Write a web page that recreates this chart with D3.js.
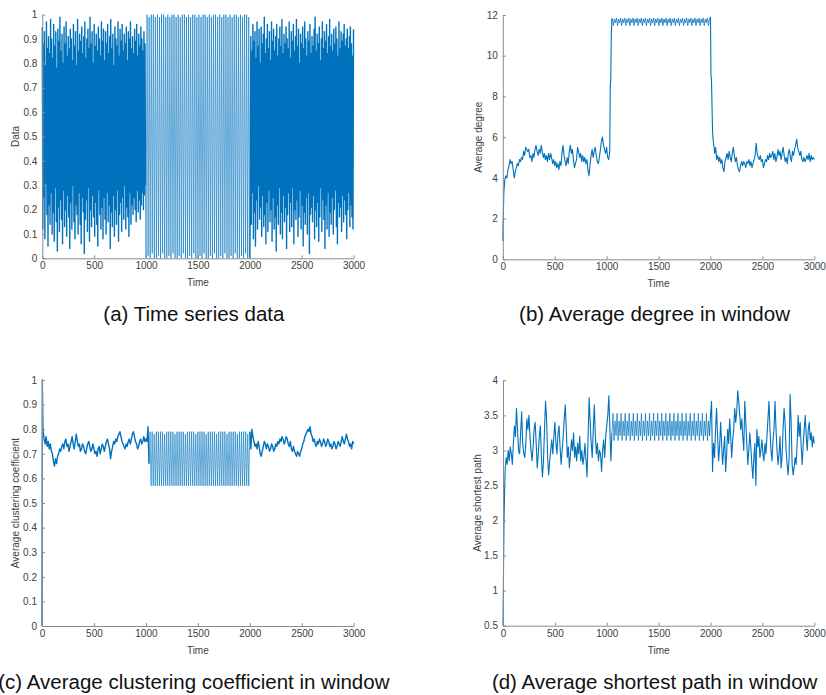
<!DOCTYPE html>
<html>
<head>
<meta charset="utf-8">
<script src="https://cdn.jsdelivr.net/npm/d3@7"></script>
<style>
  body { margin: 0; background: #fff; }
  text { font-family: "Liberation Sans", Arial, sans-serif; }
</style>
</head>
<body>
<svg id="fig" width="826" height="695"></svg>
<script>
// ---- tick labels ----
const timeTicks = [0, 500, 1000, 1500, 2000, 2500, 3000];
const unitTicks = [0, 0.1, 0.2, 0.3, 0.4, 0.5, 0.6, 0.7, 0.8, 0.9, 1];
const degreeTicks = [0, 2, 4, 6, 8, 10, 12];
const pathTicks = [0.5, 1, 1.5, 2, 2.5, 3, 3.5, 4];

// ---- (a) time series data ----
const seriesEarly = [
.95,.12,.88,.25,.93,.08,.79,.31,.97,.18,.86,.05,.91,.22,.84,.14,.98,.27,.9,.1,
.82,.19,.96,.07,.87,.29,.93,.15,.78,.03,.94,.21,.89,.11,.99,.24,.85,.16,.92,.06,
.8,.28,.95,.13,.88,.2,.97,.09,.83,.26,.91,.17,.86,.04,.94,.23,.9,.12,.81,.3,
.96,.15,.87,.08,.93,.22,.79,.18,.98,.1,.85,.27,.92,.14,.89,.06,.95,.25,.84,.19,
.91,.02,.97,.16,.82,.24,.9,.11,.94,.29,.86,.07,.99,.2,.88,.13,.93,.26,.8,.17,
.96,.09,.87,.23,.92,.14,.85,.05,.95,.28,.9,.18,.83,.12,.97,.21,.89,.08,.94,.25,
.81,.16,.93,.1,.88,.27,.96,.15,.84,.22,.91,.04,.98,.19,.86,.13,.92,.26,.79,.09,
.95,.2,.9,.14,.87,.28,.97,.07,.83,.18,.94,.23,.89,.11,.96,.25,.85,.16,.92,.3,
.88,.12,.95,.21,.81,.17,.93,.09,.9,.27,.97,.14,.86,.22,.91,.18,.84,.25,.94,.2,
.89,.15,.96,.28,.83,.19,.92,.24,.87,.16,.95,.22,.9,.27,.85,.2,.93,.26,.88,.3];
const seriesCycle = [
0,1,.01,.99,0,1,.02,1,0,.99, 0,1,.01,.99,0,1,.02,1,0,.99,
0,1,.01,.99,0,1,.02,1,0,.99, 0,1,.01,.99,0,1,.02,1,0,.99,
0,1,.01,.99,0,1,.02,1,0,.99, 0,1,.01,.99,0,1,.02,1,0,.99,
0,1,.01,.99,0,1,.02,1,0,.99, 0,1,.01,.99,0,1,.02,1,0,.99,
0,1,.01,.99,0,1,.02,1,0,.99, 0,1,.01,.99,0,1,.02,1,0,.99, 0];
const seriesLate = [
.22,.91,.14,.85,.27,.96,.08,.89,.19,.93,.05,.82,.24,.97,.12,.87,.3,.94,.16,.8,
.21,.95,.09,.88,.26,.92,.13,.99,.18,.84,.06,.9,.23,.96,.11,.86,.28,.93,.15,.81,
.2,.97,.07,.89,.25,.94,.12,.85,.17,.91,.03,.96,.22,.83,.14,.9,.29,.95,.1,.87,
.19,.98,.08,.84,.26,.92,.15,.88,.21,.95,.04,.9,.18,.86,.27,.97,.11,.82,.23,.93,
.13,.89,.29,.96,.06,.85,.2,.91,.16,.98,.24,.87,.09,.94,.17,.8,.28,.92,.12,.88,
.22,.95,.05,.86,.19,.97,.14,.9,.25,.83,.1,.93,.27,.89,.02,.96,.18,.84,.21,.91,
.15,.87,.26,.94,.08,.99,.2,.85,.13,.92,.23,.88,.07,.95,.17,.81,.29,.9,.11,.97,
.24,.86,.16,.93,.04,.89,.22,.96,.12,.84,.27,.91,.09,.98,.19,.87,.14,.92,.25,.85,
.1,.94,.2,.88,.28,.95,.13,.9,.06,.83,.23,.97,.17,.86,.21,.93,.11,.89,.26,.92,
.15,.96,.24,.87,.18,.9,.08,.94,.2,.86,.27,.91,.13,.95,.22,.88,.17,.83,.12,.94];

// ---- (b) average degree in window ----
const degreeEarly = [
.9,3.3,3.9,4.1,4.0,4.4,4.6,4.9,4.7,4.8,4.4,4.0,4.3,4.5,4.7,4.6,4.9,4.8,5.0,4.9,
5.3,5.1,5.5,5.4,5.3,5.4,5.0,5.1,4.8,5.2,5.0,5.4,5.6,5.3,5.1,5.4,5.2,5.6,5.3,5.0,
5.2,4.9,5.1,4.8,5.2,4.9,5.2,5.0,4.7,4.9,4.6,4.8,4.5,4.7,4.4,4.8,4.6,5.2,5.6,5.1,
4.8,4.6,5.0,4.7,5.3,5.6,5.2,5.4,4.9,4.5,4.7,4.9,5.5,5.3,5.0,5.2,4.8,5.1,4.8,5.0,
4.7,4.9,4.4,4.1,4.6,5.1,5.4,5.0,5.3,5.5,5.1,4.8,4.7,5.0,5.4,5.8,6.0,5.6,5.4,5.2,
5.5,5.0,4.9,5.3];
const degreeRise = [8.5, 8.9, 11.0, 11.8];
const degreeCycle = [
11.85,11.48,11.8,11.62, 11.85,11.48,11.8,11.62, 11.85,11.48,11.8,11.62, 11.85,11.48,11.8,11.62,
11.85,11.48,11.8,11.62, 11.85,11.48,11.8,11.62, 11.85,11.48,11.8,11.62, 11.85,11.48,11.8,11.62,
11.85,11.48,11.8,11.62, 11.85,11.48,11.8,11.62, 11.85,11.48,11.8,11.62, 11.85,11.48,11.8,11.62,
11.85,11.48,11.8,11.62, 11.85,11.48,11.8,11.62, 11.85,11.48,11.8,11.62, 11.85,11.48,11.8,11.62,
11.85,11.48,11.8,11.62, 11.85,11.48,11.8,11.62, 11.85,11.48,11.8,11.62, 11.85,11.48,11.8,11.62,
11.85,11.48,11.8,11.62, 11.85,11.48,11.8,11.62, 11.85,11.48,11.8,11.62, 11.85,11.48,11.8,11.9];
const degreeFall = [9.0, 8.8, 7.5, 6.3, 5.9, 5.7, 5.5];
const degreeLate = [
5.2,5.5,4.9,5.1,4.8,5.0,4.7,4.9,4.5,4.3,4.8,5.0,5.2,4.9,5.3,5.0,4.8,5.2,5.5,5.1,
4.8,5.0,4.6,4.4,4.3,4.6,4.8,4.6,4.8,4.7,4.5,4.8,4.7,4.9,4.6,4.8,4.5,4.7,4.9,5.1,
5.7,5.2,5.0,4.9,5.1,4.8,4.9,4.5,4.7,4.9,4.8,5.1,4.9,5.2,5.0,5.1,5.3,4.9,5.2,4.8,
5.0,5.4,5.1,5.3,4.9,5.2,5.5,5.1,4.8,5.0,4.7,5.2,5.4,5.0,4.8,5.3,5.1,5.4,5.6,5.9,
5.5,5.3,5.1,5.3,4.9,4.8,5.0,4.8,4.9,5.1,4.9,5.2,4.8,5.1,4.9,5.0,4.9];

// ---- (c) average clustering coefficient in window ----
const clusteringStart = [0, 1.0, 0.9, 0.8];
const clusteringEarly = [
.76,.74,.77,.73,.75,.72,.74,.71,.7,.67,.65,.68,.66,.69,.7,.72,.71,.73,.74,.72,
.75,.76,.73,.74,.71,.73,.75,.77,.74,.72,.75,.78,.75,.73,.74,.71,.72,.74,.73,.71,
.7,.72,.74,.75,.73,.71,.72,.74,.72,.7,.71,.69,.72,.73,.7,.72,.74,.73,.71,.73,
.75,.76,.74,.72,.68,.71,.73,.75,.74,.76,.75,.77,.78,.79,.77,.75,.74,.73,.72,.74,
.73,.75,.76,.74,.76,.78,.79,.77,.75,.74,.72,.73,.75,.76,.74,.75,.77,.75,.76,.75,
.81,.66];
const clusteringCycle = [
.79,.57,.79,.57,.78,.57,.79,.57,.79,.57, .79,.57,.79,.57,.78,.57,.79,.57,.79,.57,
.79,.57,.79,.57,.78,.57,.79,.57,.79,.57, .79,.57,.79,.57,.78,.57,.79,.57,.79,.57,
.79,.57,.79,.57,.78,.57,.79,.57,.79,.57, .79,.57,.79,.57,.78,.57,.79,.57,.79,.57,
.79,.57,.79,.57,.78,.57,.79,.57,.79,.57, .79,.57,.79,.57,.78,.57,.79,.57,.79,.57,
.79,.57,.79,.57,.78,.57,.79,.57,.79,.57, .79,.57,.79,.57,.78,.57,.79];
const clusteringLate = [
.72,.8,.77,.75,.73,.74,.72,.75,.73,.7,.69,.71,.73,.75,.74,.72,.74,.73,.71,.72,
.74,.73,.71,.72,.74,.73,.75,.74,.76,.75,.77,.76,.74,.75,.77,.76,.74,.73,.75,.72,
.71,.73,.71,.7,.69,.71,.7,.69,.71,.72,.74,.75,.77,.78,.79,.8,.79,.81,.78,.77,
.75,.76,.74,.73,.75,.74,.76,.75,.73,.74,.76,.75,.73,.74,.76,.75,.73,.74,.72,.73,
.75,.74,.72,.73,.75,.74,.73,.75,.77,.75,.74,.76,.78,.76,.75,.73,.74,.72,.75,.74];

// ---- (d) average shortest path in window ----
const pathStart = [0.5, 1.3, 2.0, 2.4, 2.7];
const pathEarly = [
2.9,2.8,3.0,2.85,3.05,2.95,2.8,3.1,3.35,3.2,3.6,3.3,3.0,2.95,3.25,3.55,3.1,2.95,2.9,3.1,
3.45,3.3,3.5,3.2,3.0,2.85,3.05,3.3,3.4,3.1,2.75,2.95,3.2,3.35,2.9,2.62,2.85,3.3,3.7,3.45,
2.9,2.65,2.85,3.0,3.15,2.95,3.2,3.4,3.1,2.95,3.25,3.35,3.05,2.8,3.0,3.2,3.45,3.65,3.3,2.9,
3.05,2.75,2.95,3.15,3.0,3.25,2.9,3.05,2.85,3.1,2.95,3.2,2.85,3.0,2.8,2.9,3.1,2.85,2.62,3.2,
3.75,3.4,3.1,2.9,3.3,3.65,3.2,2.95,3.1,2.85,3.0,2.95,2.7,3.0,3.15,2.9,3.2,3.35,3.5,3.78,
3.3,2.85,3.25];
const pathCycle = [
3.53,3.14,3.42,3.21, 3.53,3.14,3.42,3.21, 3.53,3.14,3.42,3.21, 3.53,3.14,3.42,3.21,
3.53,3.14,3.42,3.21, 3.53,3.14,3.42,3.21, 3.53,3.14,3.42,3.21, 3.53,3.14,3.42,3.21,
3.53,3.14,3.42,3.21, 3.53,3.14,3.42,3.21, 3.53,3.14,3.42,3.21, 3.53,3.14,3.42,3.21,
3.53,3.14,3.42,3.21, 3.53,3.14,3.42,3.21, 3.53,3.14,3.42,3.21, 3.53,3.14,3.42,3.21,
3.53,3.14,3.42,3.21, 3.53,3.14,3.42,3.21, 3.53,3.14,3.42,3.21, 3.53,3.14,3.42,3.21,
3.53,3.14,3.42,3.21, 3.53,3.14,3.42,3.21, 3.53,3.14,3.42,3.21, 3.53,3.14,3.42,3.21];
const pathLate = [
3.5,3.7,2.7,3.1,2.9,3.3,3.6,3.2,2.85,3.05,3.4,3.1,2.8,3.0,3.2,2.7,2.95,3.3,3.1,3.45,
3.2,2.9,3.15,3.3,3.6,3.4,3.55,3.85,3.7,3.5,3.3,3.45,3.2,3.0,3.7,3.4,3.1,2.8,3.0,3.25,
3.05,2.8,2.6,2.9,3.1,2.5,3.3,3.05,3.2,2.9,3.0,3.15,2.95,2.85,3.1,2.95,3.2,3.45,3.7,3.3,
3.0,2.85,3.15,3.3,3.7,3.3,3.0,2.8,2.95,3.2,2.75,2.9,3.3,3.6,3.4,3.0,2.8,2.65,2.9,3.8,
3.4,2.8,2.65,2.75,2.9,2.8,3.1,3.5,3.2,3.4,3.05,2.8,3.1,3.3,3.5,3.2,3.0,3.3,3.4,3.15,
3.25,3.05,3.2,3.1];

// ---- captions and axis titles ----
const captions = ["(a) Time series data", "(b) Average degree in window",
                  "(c) Average clustering coefficient in window", "(d) Average shortest path in window"];
const yTitles = ["Data", "Average degree", "Average clustering coefficient", "Average shortest path"];
const xTitle = "Time";

// Each panel: plot frame in pixels, y range, line widths for the irregular
// and the periodic stretches, and the sampled segments [from, to, values]
const panels = [
  { frame: {l: 42.3, r: 353.5, t: 14.7, b: 258.3}, yDomain: [0, 1], yTicks: unitTicks,
    noiseWidth: 1.4, cycleWidth: 0.6, cycleIndex: 1,
    segments: [[0, 995, seriesEarly], [1000, 2000, seriesCycle], [2005, 3000, seriesLate]],
    caption: captions[0], yTitle: yTitles[0], titleX: 15, capY: 321 },
  { frame: {l: 502.8, r: 814.3, t: 15, b: 259.3}, yDomain: [0, 12], yTicks: degreeTicks,
    noiseWidth: 1.1, cycleWidth: 0.8, cycleIndex: 2,
    segments: [[0, 1030, degreeEarly], [1035, 1050, degreeRise], [1055, 2000, degreeCycle],
               [2005, 2035, degreeFall], [2040, 3000, degreeLate]],
    caption: captions[1], yTitle: yTitles[1], titleX: 478, capY: 321 },
  { frame: {l: 42, r: 353.7, t: 380, b: 626}, yDomain: [0, 1], yTicks: unitTicks,
    noiseWidth: 1.4, cycleWidth: 0.6, cycleIndex: 2,
    segments: [[0, 9, clusteringStart], [20, 1030, clusteringEarly], [1040, 2000, clusteringCycle],
               [2010, 3000, clusteringLate]],
    caption: captions[2], yTitle: yTitles[2], titleX: 15, capY: 689 },
  { frame: {l: 503, r: 814.3, t: 380.3, b: 625.7}, yDomain: [0.5, 4], yTicks: pathTicks,
    noiseWidth: 1.1, cycleWidth: 0.7, cycleIndex: 2,
    segments: [[0, 20, pathStart], [30, 1050, pathEarly], [1060, 1990, pathCycle], [2000, 3000, pathLate]],
    caption: captions[3], yTitle: yTitles[3], titleX: 477, capY: 689 }
];

const svg = d3.select("#fig");
const lineColor = "#0072bd";
const axisColor = "#8a8a8a";
const textColor = "#404040";

panels.forEach(p => {
  const f = p.frame;
  const x = d3.scaleLinear().domain([0, 3000]).range([f.l, f.r]);
  const y = d3.scaleLinear().domain(p.yDomain).range([f.b, f.t]);
  const line = d3.line().x(d => x(d[0])).y(d => y(d[1]));

  const g = svg.append("g");

  // each segment becomes its own path, joined to the last sample of the previous one
  let prev = null;
  p.segments.forEach(([from, to, vals], k) => {
    const dt = vals.length > 1 ? (to - from) / (vals.length - 1) : 0;
    const pts = vals.map((v, i) => [from + i * dt, v]);
    const drawn = prev ? [prev, ...pts] : pts;
    g.append("path")
      .datum(drawn)
      .attr("fill", "none")
      .attr("stroke", lineColor)
      .attr("stroke-width", k === p.cycleIndex ? p.cycleWidth : p.noiseWidth)
      .attr("stroke-linejoin", "round")
      .attr("d", line);
    prev = pts[pts.length - 1];
  });

  const xAxis = g.append("g")
    .attr("transform", `translate(0,${f.b})`)
    .call(d3.axisBottom(x).tickValues(timeTicks).tickFormat(d3.format("d"))
      .tickSize(-3).tickSizeOuter(0).tickPadding(4));
  const yAxis = g.append("g")
    .attr("transform", `translate(${f.l},0)`)
    .call(d3.axisLeft(y).tickValues(p.yTicks).tickFormat(d => String(d))
      .tickSize(-3).tickSizeOuter(0).tickPadding(5));

  [xAxis, yAxis].forEach(a => {
    a.select(".domain").attr("stroke", axisColor);
    a.selectAll(".tick line").attr("stroke", axisColor);
    a.selectAll(".tick text").attr("fill", textColor).style("font-size", "10px")
      .style("font-family", '"Liberation Sans",Arial,sans-serif');
  });

  g.append("text")
    .attr("x", (f.l + f.r) / 2).attr("y", f.b + 28)
    .attr("text-anchor", "middle").attr("fill", textColor).style("font-size", "10px")
    .text(xTitle);

  g.append("text")
    .attr("transform", `translate(${p.titleX},${(f.t + f.b) / 2}) rotate(-90)`)
    .attr("text-anchor", "middle").attr("dy", "0.35em").attr("fill", textColor).style("font-size", "10px")
    .text(p.yTitle);

  g.append("text")
    .attr("x", (f.l + f.r) / 2 - 4).attr("y", p.capY)
    .attr("text-anchor", "middle").attr("fill", "#111").style("font-size", "20.5px")
    .text(p.caption);
});
</script>
</body>
</html>
